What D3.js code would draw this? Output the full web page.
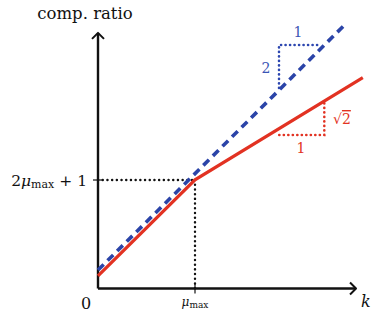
<!DOCTYPE html>
<html><head><meta charset="utf-8">
<script src="https://cdn.jsdelivr.net/npm/d3@7"></script>
<style>body{margin:0;background:#fff}svg{display:block}</style>
</head><body><svg id="c" width="371" height="321"></svg>
<script>
// data (x in units of mu_max, y in arbitrary ratio units)
const redX = [0, 1, 2.73];
const redY = [0.26, 2.24, 4.35];
const blueX = [0, 2.53];
const blueY = [0.38, 5.41];
const refX = 1;          // mu_max
const refY = 2.237;      // 2 mu_max + 1
const blueTriX = [1.866, 2.289], blueTriY = [4.134, 5.02];
const redTriX = [1.869, 2.333], redTriY = [3.165, 3.866];
const xTickLabels = ["0", "μmax"];
const yTickLabels = ["2μmax + 1"];

const FONT = "'DejaVu Serif', serif";
const svg = d3.select("#c").attr("font-family", FONT);
const x = d3.scaleLinear().domain([0, 1]).range([98, 195]);
const y = d3.scaleLinear().domain([0, 1]).range([288.5, 240]);
const xMax = 2.66, yMax = 5.27;

function line(pts, attrs){
  const p = svg.append("path").attr("d", d3.line().x(d=>x(d[0])).y(d=>y(d[1]))(pts)).attr("fill","none");
  for (const k in attrs) p.attr(k, attrs[k]);
  return p;
}
const dotBlack = {stroke:"#111", "stroke-width":2.4, "stroke-dasharray":"0.1 4.6", "stroke-linecap":"round"};
line([[0,refY],[refX,refY]], dotBlack);
line([[refX,refY],[refX,0]], dotBlack);

const dotBlue = {stroke:"#2d47b0", "stroke-width":2.6, "stroke-dasharray":"0.1 4.4", "stroke-linecap":"round"};
line([[blueTriX[0],blueTriY[0]],[blueTriX[0],blueTriY[1]],[blueTriX[1],blueTriY[1]]], dotBlue);
const dotRed = {stroke:"#e23222", "stroke-width":2.6, "stroke-dasharray":"0.1 4.4", "stroke-linecap":"round"};
line([[redTriX[0],redTriY[0]],[redTriX[1],redTriY[0]],[redTriX[1],redTriY[1]]], dotRed);

const ax = {stroke:"#111", "stroke-width":2.4};
line([[0,0],[xMax,0]], ax);
line([[0,0],[0,yMax]], ax);
svg.append("path").attr("d",`M${x(xMax)-6},${y(0)-6} L${x(xMax)},${y(0)} L${x(xMax)-6},${y(0)+6}`)
  .attr("fill","none").attr("stroke","#111").attr("stroke-width",2).attr("stroke-linejoin","round");
svg.append("path").attr("d",`M${x(0)-6},${y(yMax)+6} L${x(0)},${y(yMax)} L${x(0)+6},${y(yMax)+6}`)
  .attr("fill","none").attr("stroke","#111").attr("stroke-width",2).attr("stroke-linejoin","round");
svg.append("line").attr("x1",x(refX)).attr("x2",x(refX)).attr("y1",y(0)-5).attr("y2",y(0)+5).attr("stroke","#111").attr("stroke-width",1.2);
svg.append("line").attr("x1",x(0)-5).attr("x2",x(0)+5).attr("y1",y(refY)).attr("y2",y(refY)).attr("stroke","#111").attr("stroke-width",1.2);

line(d3.zip(redX, redY), {stroke:"#e23222","stroke-width":3.2});
line(d3.zip(blueX, blueY), {stroke:"#2b44a8","stroke-width":3.6,"stroke-dasharray":"8 5.5"});

svg.append("text").attr("x",85).attr("y",19).attr("text-anchor","middle").attr("font-size",16.5).attr("fill","#111").text("comp. ratio");
svg.append("text").attr("x",x(0)-12).attr("y",309).attr("text-anchor","middle").attr("font-size",16).attr("fill","#111").text(xTickLabels[0]);
const mu1 = svg.append("text").attr("x",x(refX)).attr("y",306).attr("text-anchor","middle").attr("fill","#111");
mu1.append("tspan").attr("font-style","italic").attr("font-size",12).text("μ");
mu1.append("tspan").attr("font-size",9).attr("dy",2).text("max");
const t2 = svg.append("text").attr("x",x(0)-11).attr("y",y(refY)+5.5).attr("text-anchor","end").attr("fill","#111").attr("font-size",15.5);
t2.append("tspan").text("2");
t2.append("tspan").attr("font-style","italic").text("μ");
t2.append("tspan").attr("font-size",11).attr("dy",2.5).text("max");
t2.append("tspan").attr("dy",-2.5).text(" + 1");
svg.append("text").attr("x",361).attr("y",307).attr("font-style","italic").attr("font-size",16).attr("fill","#111").text("k");

svg.append("text").attr("x",298).attr("y",37).attr("text-anchor","middle").attr("font-size",14).attr("fill","#3a55b5").text("1");
svg.append("text").attr("x",266).attr("y",73).attr("text-anchor","middle").attr("font-size",14).attr("fill","#3a55b5").text("2");
svg.append("text").attr("x",301).attr("y",153).attr("text-anchor","middle").attr("font-size",14).attr("fill","#e23222").text("1");
const s2 = svg.append("text").attr("x",333).attr("y",124).attr("fill","#e23222").attr("font-size",14);
s2.append("tspan").text("√");
s2.append("tspan").attr("text-decoration","overline").text("2");
</script></body></html>
